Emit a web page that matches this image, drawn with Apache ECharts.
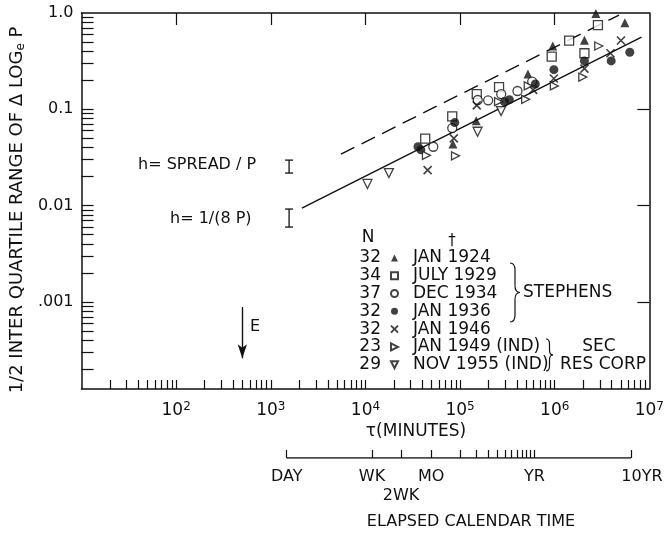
<!DOCTYPE html>
<html><head><meta charset="utf-8">
<script src="https://cdn.jsdelivr.net/npm/echarts@6/dist/echarts.min.js"></script>
<style>html,body{margin:0;padding:0;background:#fff}#c{width:667px;height:537px}</style>
</head><body><div id="c"></div>
<script>
const FONT = 'DejaVu Sans';
const INK = '#111';

// ---- data (x = tau in minutes, y = 1/2 interquartile range) ----
const seriesNames = ['JAN 1924', 'JULY 1929', 'DEC 1934', 'JAN 1936', 'JAN 1946', 'JAN 1949 (IND)', 'NOV 1955 (IND)'];
const sampleN = ['32', '34', '37', '32', '32', '23', '29'];

const jan1924 = [[84000, 0.0436], [148000, 0.0762], [521000, 0.233], [953000, 0.454], [2060000, 0.521], [2720000, 0.99], [5510000, 0.793]];
const jul1929 = [[42800, 0.0497], [82600, 0.0846], [150000, 0.144], [258000, 0.170], [929000, 0.352], [1420000, 0.516], [2060000, 0.382], [2860000, 0.750]];
const dec1934 = [[52100, 0.0409], [82600, 0.0639], [153500, 0.125], [198000, 0.124], [272000, 0.144], [404000, 0.155], [578000, 0.194]];
const jan1936 = [[35900, 0.0409], [38500, 0.0380], [87900, 0.0729], [294000, 0.120], [332000, 0.126], [624000, 0.183], [980000, 0.258], [2060000, 0.318], [3950000, 0.318], [6210000, 0.391]];
const jan1946 = [[45400, 0.0234], [85900, 0.0500], [150000, 0.110], [592000, 0.159], [980000, 0.209], [2060000, 0.265], [3880000, 0.382], [5010000, 0.518]];
const jan1949 = [[44100, 0.0333], [89500, 0.0329], [255000, 0.120], [493000, 0.127], [525000, 0.175], [991000, 0.175], [1980000, 0.216], [2920000, 0.454]];
const nov1955 = [[10500, 0.0168], [17700, 0.0218], [153000, 0.0585], [271000, 0.096]];

const fitSolid = [[2130, 0.00944], [8260000, 0.563]];
const fitDashed = [[5510, 0.0343], [4780000, 0.953]];

// h markers: [tau, low, high]
const hBars = [[1560, 0.0218, 0.0297], [1560, 0.0060, 0.00922]];
const hLabels = ['h= SPREAD / P', 'h= 1/(8 P)'];
// E arrow: [tau, from, to]
const eArrow = [500, 0.000885, 0.000261];

// axis ticks
const xDecades = [100, 1000, 10000, 100000, 1000000, 10000000];
const yDecades = [1, 0.1, 0.01, 0.001];
const yLabelText = ['1.0', '0.1', '0.01', '.001'];
const xMinor = []; for (let e = 1; e <= 6; e++) for (let m = 1; m <= 9; m++) if (!(m === 1 && e === 1)) xMinor.push(m * Math.pow(10, e));
const yMinor = []; for (let e = -4; e <= -1; e++) for (let m = 1; m <= 9; m++) { const v = m * Math.pow(10, e); if (v > 0.000125) yMinor.push(v); }
// calendar time (minutes)
const calTicks = [1440, 11000, 22000, 45000, 90000, 131400, 175200, 219000, 262800, 306600, 350400, 394200, 438000, 481800, 525600, 5256000];
const calLabelVals = [1440, 11000, 22000, 45000, 525600, 5256000];
const calLabelText = ['DAY', 'WK', '\n2WK', 'MO', 'YR', '{r|10YR}'];
const calSpan = [[1440, 0], [5256000, 0]];

const txt = (o) => Object.assign({ fontFamily: FONT, fill: INK, fontSize: 17 }, o);
const hollow = { color: '#fff', borderColor: INK, borderWidth: 1.3 };
const solid = { color: INK };
const CROSS = 'path://M0,0L10,10M0,10L10,0';
const RIGHT_TRI = 'path://M0,0L10,5L0,10Z';
const DOWN_TRI = 'path://M0,0L10,0L5,10Z';

function sc(name, data, symbol, size, style) {
  return { type: 'scatter', name, data, symbol, symbolSize: size, itemStyle: style, z: 5, xAxisIndex: 0, yAxisIndex: 0 };
}
function brace(x, y, w, h, r) {
  const st = { stroke: INK, fill: null, lineWidth: 1.2 };
  const m = w / 2;
  return { type: 'group', x, y, children: [
    { type: 'bezierCurve', shape: { x1: 0, y1: 0, x2: m, y2: r, cpx1: m, cpy1: 0 }, style: st },
    { type: 'line', shape: { x1: m, y1: r, x2: m, y2: h / 2 - r }, style: st },
    { type: 'bezierCurve', shape: { x1: m, y1: h / 2 - r, x2: w, y2: h / 2, cpx1: m, cpy1: h / 2 }, style: st },
    { type: 'bezierCurve', shape: { x1: w, y1: h / 2, x2: m, y2: h / 2 + r, cpx1: m, cpy1: h / 2 }, style: st },
    { type: 'line', shape: { x1: m, y1: h / 2 + r, x2: m, y2: h - r }, style: st },
    { type: 'bezierCurve', shape: { x1: m, y1: h - r, x2: 0, y2: h, cpx1: m, cpy1: h }, style: st }
  ] };
}

const chart = echarts.init(document.getElementById('c'), null, { renderer: 'canvas' });
const rowY = (i) => 258 + i * 17.8;

chart.setOption({
  backgroundColor: '#fff',
  animation: false,
  textStyle: { fontFamily: FONT, color: INK },
  grid: [
    { left: 78, right: 9, top: 13, bottom: 148 },
    { left: 78, right: 9, top: 440, height: 18 }
  ],
  xAxis: [
    { type: 'log', gridIndex: 0, min: 10, max: 10000000, position: 'bottom',
      axisLine: { lineStyle: { color: INK, width: 1.5 } },
      axisTick: { inside: true, length: 9, customValues: xMinor, lineStyle: { color: INK, width: 1.2 } },
      splitLine: { show: false },
      axisLabel: { customValues: xDecades, margin: 12, color: INK,
        formatter: v => '{n|10}{s|' + Math.round(Math.log10(v)) + '}',
        rich: { n: { fontSize: 17, fontFamily: FONT, lineHeight: 20, color: INK }, s: { fontSize: 12, fontFamily: FONT, verticalAlign: 'top', lineHeight: 12, color: INK } } } },
    { type: 'log', gridIndex: 0, min: 10, max: 10000000, position: 'top',
      axisLine: { lineStyle: { color: INK, width: 1.5 } },
      axisTick: { inside: true, length: 12, customValues: xDecades.slice(0, 5), lineStyle: { color: INK, width: 1.2 } },
      axisLabel: { show: false }, splitLine: { show: false } },
    { type: 'log', gridIndex: 1, min: 10, max: 10000000, position: 'bottom',
      axisLine: { show: false },
      axisTick: { inside: true, length: 8, customValues: calTicks, lineStyle: { color: INK, width: 1.2 } },
      splitLine: { show: false },
      axisLabel: { customValues: calLabelVals, margin: 9, color: INK, fontSize: 16, lineHeight: 19, fontFamily: FONT,
        formatter: v => calLabelText[calLabelVals.indexOf(v)],
        rich: { r: { fontSize: 16, fontFamily: FONT, color: INK, padding: [0, 0, 0, 22] } } } }
  ],
  yAxis: [
    { type: 'log', gridIndex: 0, min: 0.000125, max: 1, position: 'left',
      axisLine: { lineStyle: { color: INK, width: 1.5 } },
      axisTick: { inside: true, length: 12, customValues: yMinor, lineStyle: { color: INK, width: 1.2 } },
      splitLine: { show: false },
      axisLabel: { customValues: yDecades, margin: 8, color: INK, fontSize: 16, fontFamily: FONT,
        formatter: v => yLabelText[yDecades.findIndex(d => Math.abs(Math.log10(d) - Math.log10(v)) < 0.01)] },
      name: '{n|1/2 INTER QUARTILE RANGE OF \u0394 LOG}{s|e}{n| P}', nameLocation: 'middle', nameGap: 46, nameRotate: 90,
      nameTextStyle: { padding: [0, 18, 0, 0], rich: { n: { fontSize: 18, fontFamily: FONT, color: INK, lineHeight: 20 }, s: { fontSize: 12, fontFamily: FONT, color: INK, verticalAlign: 'bottom', lineHeight: 12 } } } },
    { type: 'log', gridIndex: 0, min: 0.000125, max: 1, position: 'right',
      axisLine: { lineStyle: { color: INK, width: 1.5 } },
      axisTick: { inside: true, length: 12, customValues: [0.1, 0.01, 0.001], lineStyle: { color: INK, width: 1.2 } },
      axisLabel: { show: false }, splitLine: { show: false } },
    { type: 'value', gridIndex: 1, min: 0, max: 1, show: false }
  ],
  legend: {
    orient: 'vertical', left: 390, top: 249, itemWidth: 7, itemHeight: 7, itemGap: 0, padding: 0,
    selectedMode: false,
    data: seriesNames.map((n, i) => i === 5 ? { name: n, icon: RIGHT_TRI } : i === 6 ? { name: n, icon: DOWN_TRI } : { name: n }),
    textStyle: { fontFamily: FONT, fontSize: 17, color: INK, lineHeight: 17.8, padding: [0, 0, 0, 10] }
  },
  series: [
    { type: 'line', name: 'fit', data: fitSolid, symbol: 'none', lineStyle: { color: INK, width: 1.4 }, z: 2, xAxisIndex: 0, yAxisIndex: 0 },
    { type: 'line', name: 'fit2', data: fitDashed, symbol: 'none', lineStyle: { color: INK, width: 1.4, type: [15, 8] }, z: 2, xAxisIndex: 0, yAxisIndex: 0 },
    sc(seriesNames[0], jan1924, 'triangle', 9, solid),
    sc(seriesNames[1], jul1929, 'rect', 9, hollow),
    sc(seriesNames[2], dec1934, 'circle', 9, hollow),
    sc(seriesNames[3], jan1936, 'circle', 9, solid),
    sc(seriesNames[4], jan1946, CROSS, 8, { color: 'rgba(0,0,0,0)', borderColor: INK, borderWidth: 1.6 }),
    sc(seriesNames[5], jan1949, RIGHT_TRI, 8, hollow),
    sc(seriesNames[6], nov1955, DOWN_TRI, 9, hollow),
    { type: 'custom', name: 'h', data: hBars, xAxisIndex: 0, yAxisIndex: 0, z: 3,
      encode: { x: 0, y: [1, 2] },
      renderItem: (params, api) => {
        const x = api.value(0);
        const a = api.coord([x, api.value(1)]), b = api.coord([x, api.value(2)]);
        const st = { stroke: INK, lineWidth: 1.3 };
        return { type: 'group', children: [
          { type: 'line', shape: { x1: a[0], y1: a[1], x2: b[0], y2: b[1] }, style: st },
          { type: 'line', shape: { x1: a[0] - 4, y1: a[1], x2: a[0] + 4, y2: a[1] }, style: st },
          { type: 'line', shape: { x1: b[0] - 4, y1: b[1], x2: b[0] + 4, y2: b[1] }, style: st }
        ] };
      },
      markLine: { silent: true, symbol: ['none', 'arrow'], symbolSize: [7, 14], label: { show: false },
        lineStyle: { color: INK, width: 1.4, type: 'solid' },
        data: [[{ coord: [eArrow[0], eArrow[1]] }, { coord: [eArrow[0], eArrow[2]] }]] } },
    { type: 'line', name: 'cal', data: calSpan, xAxisIndex: 2, yAxisIndex: 2, symbol: 'none', lineStyle: { color: INK, width: 1.3 } }
  ],
  graphic: [
    { type: 'text', x: 138, y: 165, style: txt({ text: hLabels[0], fontSize: 16, verticalAlign: 'middle' }) },
    { type: 'text', x: 170, y: 219, style: txt({ text: hLabels[1], fontSize: 16, verticalAlign: 'middle' }) },
    { type: 'text', x: 250, y: 327, style: txt({ text: 'E', fontSize: 16, verticalAlign: 'middle' }) },
    { type: 'text', x: 416, y: 432, style: txt({ text: '\u03c4(MINUTES)', align: 'center', verticalAlign: 'middle', fontSize: 17 }) },
    { type: 'text', x: 471, y: 522, style: txt({ text: 'ELAPSED CALENDAR TIME', align: 'center', verticalAlign: 'middle', fontSize: 16 }) },
    { type: 'text', x: 368, y: 238, style: txt({ text: 'N', align: 'center', verticalAlign: 'middle' }) },
    { type: 'text', x: 452, y: 241, style: txt({ text: '\u2020', align: 'center', verticalAlign: 'middle', fontSize: 15 }) },
    ...sampleN.map((n, i) => ({ type: 'text', x: 381, y: rowY(i), style: txt({ text: n, align: 'right', verticalAlign: 'middle' }) })),
    brace(510, 263, 10, 59, 7),
    { type: 'text', x: 523, y: 293, style: txt({ text: 'STEPHENS', verticalAlign: 'middle' }) },
    brace(546, 339, 7, 32, 5),
    { type: 'text', x: 599, y: rowY(5), style: txt({ text: 'SEC', align: 'center', verticalAlign: 'middle' }) },
    { type: 'text', x: 560, y: rowY(6), style: txt({ text: 'RES CORP', verticalAlign: 'middle' }) }
  ]
});
</script>
</body></html>
